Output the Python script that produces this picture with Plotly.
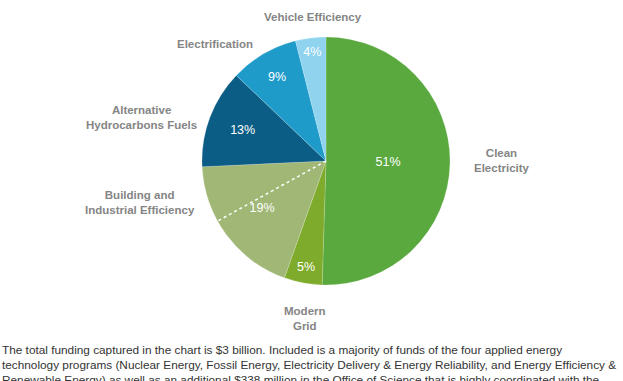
import math
import plotly.graph_objects as go

categories = ["Clean Electricity", "Modern Grid", "Building and Industrial Efficiency",
              "Alternative Hydrocarbons Fuels", "Electrification", "Vehicle Efficiency"]
label_text = ["Clean<br>Electricity", "Modern<br>Grid", "Building and<br>Industrial Efficiency",
              "Alternative<br>Hydrocarbons Fuels", "Electrification", "Vehicle Efficiency"]
values = [51, 5, 19, 13, 9, 4]
colors = ["#5aa93f", "#7fab2c", "#a0b775", "#0c5d85", "#1f9bca", "#8fd3ef"]

caption_lines = [
    "The total funding captured in the chart is $3 billion. Included is a majority of funds of the four applied energy",
    "technology programs (Nuclear Energy, Fossil Energy, Electricity Delivery &amp; Energy Reliability, and Energy Efficiency &amp;",
    "Renewable Energy) as well as an additional $338 million in the Office of Science that is highly coordinated with the",
]

W, H = 623, 381
cx, cy, R = 326, 161, 124  # pie center / radius in pixels

fig = go.Figure()
fig.add_trace(go.Pie(
    labels=categories,
    values=values,
    sort=False,
    direction="clockwise",
    rotation=0,
    marker=dict(colors=colors, line=dict(color="rgba(255,255,255,0.35)", width=0.5)),
    texttemplate="%{value}%",
    textposition="inside",
    insidetextorientation="horizontal",
    textfont=dict(family="Liberation Sans", size=12.5, color="white"),
    hoverinfo="label+value",
    showlegend=False,
    domain=dict(x=[(cx - R) / W, (cx + R) / W], y=[1 - (cy + R) / H, 1 - (cy - R) / H]),
))

# outer category labels
label_pos = [(502, 160), (305, 318), (140, 202), (141, 118), (215, 44), (313, 17)]
for txt, (x, y) in zip(label_text, label_pos):
    fig.add_annotation(x=x / W, y=1 - y / H, xref="paper", yref="paper", text="<b>" + txt.replace("<br>", "</b><br><b>") + "</b>",
                       showarrow=False, xanchor="center", yanchor="middle",
                       font=dict(family="Liberation Sans", size=11.5, color="#858585"),
                       align="center")

# dotted divider inside the Building slice
ang = math.radians(241)
x1 = cx + R * math.sin(ang)
y1 = cy - R * math.cos(ang)
fig.add_shape(type="line", xref="paper", yref="paper",
              x0=cx / W, y0=1 - cy / H, x1=x1 / W, y1=1 - y1 / H,
              line=dict(color="white", width=1.5, dash="dot"))

# caption
for i, line in enumerate(caption_lines):
    fig.add_annotation(x=0, y=1 - (350 + 15 * i) / H, xref="paper", yref="paper", text=line,
                       showarrow=False, xanchor="left", yanchor="middle",
                       font=dict(family="Liberation Sans", size=11.8, color="#333333"))

fig.update_layout(width=W, height=H, margin=dict(l=0, r=0, t=0, b=0),
                  paper_bgcolor="white", plot_bgcolor="white")
fig.write_html("out.html", config={"displayModeBar": False},
               post_script="document.body.style.margin='0';document.body.style.overflow='hidden';")
